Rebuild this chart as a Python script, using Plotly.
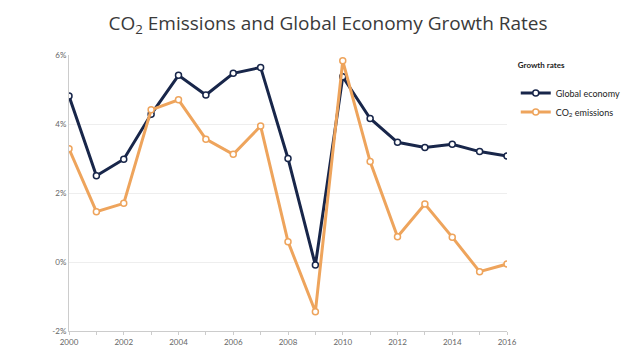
import plotly.graph_objects as go

years = list(range(2000, 2017))
global_economy = [4.81, 2.50, 2.98, 4.28, 5.41, 4.84, 5.47, 5.64, 3.00, -0.09,
                  5.37, 4.16, 3.47, 3.32, 3.41, 3.20, 3.07]
co2_emissions = [3.28, 1.46, 1.70, 4.41, 4.70, 3.56, 3.12, 3.94, 0.59, -1.44,
                 5.83, 2.91, 0.73, 1.68, 0.72, -0.28, -0.06]
x_ticks = list(range(2000, 2017, 2))
y_ticks = [-2, 0, 2, 4, 6]
y_tick_labels = ["-2%", "0%", "2%", "4%", "6%"]

navy = "#18264a"
orange = "#eea45c"

fig = go.Figure()
fig.add_trace(go.Scatter(
    x=years, y=global_economy, name="Global economy", mode="lines+markers",
    line=dict(color=navy, width=3),
    marker=dict(symbol="circle", size=6, color="white", line=dict(color=navy, width=1.5)),
))
fig.add_trace(go.Scatter(
    x=years, y=co2_emissions, name="CO<sub>2</sub> emissions", mode="lines+markers",
    line=dict(color=orange, width=3),
    marker=dict(symbol="circle", size=6, color="white", line=dict(color=orange, width=1.5)),
))

fig.update_layout(
    width=640, height=360,
    margin=dict(l=61, r=141, t=47, b=37),
    paper_bgcolor="white", plot_bgcolor="white",
    font=dict(family="Lato, Open Sans, sans-serif", color="#555"),
    title=dict(text="CO<sub>2</sub> Emissions and Global Economy Growth Rates",
               x=0.5, xanchor="center", y=1 - 15 / 360, yanchor="middle",
               font=dict(size=19, color="#3a3a3a", family="Open Sans, sans-serif")),
    showlegend=True,
    legend=dict(
        x=1.02, xanchor="left", y=0.99, yanchor="top",
        title=dict(text="<b>Growth rates</b><br>", font=dict(size=8, color="#222")),
        font=dict(size=9, color="#222"),
        bgcolor="rgba(0,0,0,0)",
    ),
    xaxis=dict(
        range=[2000, 2016], tickvals=x_ticks, ticktext=[str(v) for v in x_ticks],
        showgrid=False, zeroline=False, showline=True, linecolor="#ccc", linewidth=1,
        ticks="outside", ticklen=3, tickcolor="#ccc",
        minor=dict(dtick=1, ticks="outside", ticklen=3, tickcolor="#ccc"),
        tickfont=dict(size=8, color="#666"),
    ),
    yaxis=dict(
        range=[-2, 6], tickvals=y_ticks, ticktext=y_tick_labels,
        showgrid=True, gridcolor="#eeeeee", gridwidth=1, zeroline=False,
        showline=True, linecolor="#ccc", linewidth=1,
        tickfont=dict(size=8, color="#666"), ticks="",
    ),
)

fig.write_html("out.html")
